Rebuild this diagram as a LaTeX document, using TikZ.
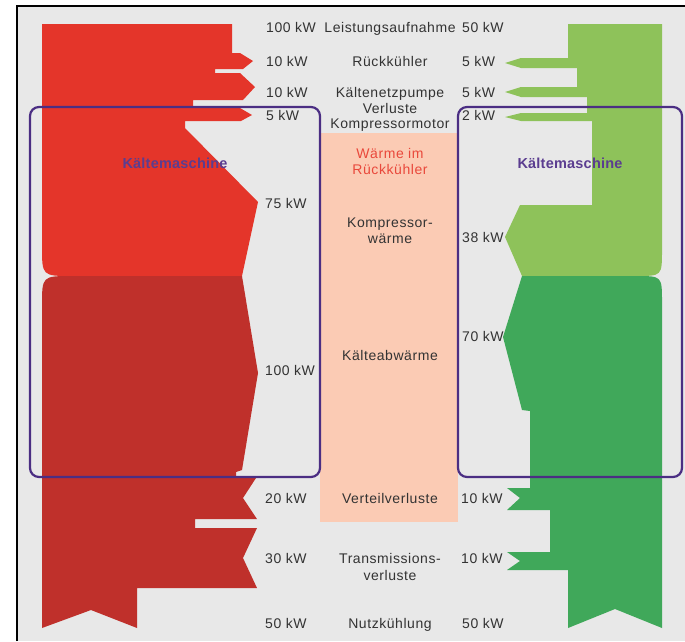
\documentclass[tikz,border=0pt]{standalone}
\usepackage{fontspec}
\setmainfont[LetterSpace=4]{Liberation Sans}
\newfontfamily\kmfont[LetterSpace=1.5]{Liberation Sans}
\definecolor{bg}{HTML}{E8E8E8}
\definecolor{redA}{HTML}{E4352A}
\definecolor{redB}{HTML}{BF302B}
\definecolor{grnA}{HTML}{8EC25A}
\definecolor{grnB}{HTML}{40A85A}
\definecolor{peach}{HTML}{FBCBB4}
\definecolor{boxc}{HTML}{4B2E83}
\definecolor{kmtext}{HTML}{5B3D90}
\definecolor{warm}{HTML}{E9483B}
\definecolor{txt}{HTML}{333333}
\begin{document}
\begin{tikzpicture}[x=1pt,y=-1pt,
  lab/.style={font=\fontsize{14}{16}\selectfont, text=txt, inner sep=0pt, anchor=base},
  numL/.style={lab, anchor=base west},
  numR/.style={lab, anchor=base west},
  warmlab/.style={lab, text=warm},
  kmlab/.style={lab, font=\kmfont\fontsize{14.5}{16}\selectfont\bfseries, text=kmtext},
  kmbox/.style={draw=boxc, line width=2.2pt, rounded corners=9pt}]
\useasboundingbox (0,0) rectangle (685,641);
% background and frame
\fill[white] (0,0) rectangle (685,641);
\fill[bg] (17,6) rectangle (685,641);
\draw[black, line width=2pt] (16.5,641) -- (16.5,6) -- (686,6);
% middle peach band
\fill[peach] (320,133) rectangle (458,522);
% left (red) flow, upper part
\fill[redA] (42,24) -- (232,24) -- (232,53) -- (240,53) -- (253,61) -- (243,69)
  -- (215,69) -- (215,73) -- (240,73) -- (255,87) -- (243,100) -- (193,100)
  -- (193,107) -- (240,108) -- (252,115) -- (241,121) -- (185,121) -- (185,128)
  -- (258,202) -- (242,276) -- (72,276) .. controls (42,276) and (42,276) .. (42,246) -- cycle;
% left (red) flow, lower part
\fill[redB] (72,276) -- (242,276) -- (258,373) -- (242,470) -- (236,472) -- (236,478)
  -- (256,478) -- (243,498) -- (257,519) -- (195,519) -- (195,528) -- (257,528)
  -- (243,558) -- (257,588) -- (137,588) -- (137,628) -- (91,610) -- (42,628)
  -- (42,306) .. controls (42,276) and (42,276) .. (72,276) -- cycle;
% right (green) flow, upper part
\fill[grnA] (568,24) -- (662,24) -- (662,250) .. controls (662,276) and (662,276) .. (636,276)
  -- (522,276) -- (505,237) -- (520,205) -- (592,205) -- (592,121) -- (521,121)
  -- (505,117) -- (521,113) -- (587,113) -- (587,97) -- (521,97) -- (505,92)
  -- (521,87) -- (577,87) -- (577,68) -- (521,68) -- (505,63) -- (521,58) -- (568,58) -- cycle;
% right (green) flow, lower part
\fill[grnB] (522,276) -- (636,276) .. controls (662,276) and (662,276) .. (662,302)
  -- (662,628) -- (615,609) -- (568,628) -- (568,570) -- (507,570) -- (520,561)
  -- (507,552) -- (550,552) -- (550,510) -- (507,510) -- (520,498) -- (507,488)
  -- (530,488) -- (530,411) -- (522,410) -- (503,337) -- cycle;
% machine boxes
\draw[kmbox] (30,107) rectangle (320,477);
\draw[kmbox] (458,107) rectangle (682,477);
% labels
\node[kmlab] (kmL) at (175,168) {Kältemaschine};
\node[kmlab] (kmR) at (570,168) {Kältemaschine};
\node[numL] (a1) at (266,32) {100 kW};
\node[lab] (m1) at (390,32) {Leistungsaufnahme};
\node[numR] (b1) at (462,32) {50 kW};
\node[numL] (a2) at (266,66) {10 kW};
\node[lab] (m2) at (390,66) {Rückkühler};
\node[numR] (b2) at (462,66) {5 kW};
\node[numL] (a3) at (266,97) {10 kW};
\node[lab] (m3) at (390,97) {Kältenetzpumpe};
\node[numR] (b3) at (462,97) {5 kW};
\node[numL] (a4) at (266,120) {5 kW};
\node[lab] (m4a) at (390,113) {Verluste};
\node[lab] (m4b) at (390,128) {Kompressormotor};
\node[numR] (b4) at (462,120) {2 kW};
\node[warmlab] (w1) at (390,158) {Wärme im};
\node[warmlab] (w2) at (390,174) {Rückkühler};
\node[numL] (a5) at (265,208) {75 kW};
\node[lab] (m5a) at (390,227) {Kompressor-};
\node[lab] (m5b) at (390,243) {wärme};
\node[numR] (b5) at (462,242) {38 kW};
\node[numR] (b6) at (462,341) {70 kW};
\node[lab] (m6) at (390,360) {Kälteabwärme};
\node[numL] (a6) at (265,375) {100 kW};
\node[numL] (a7) at (265,503) {20 kW};
\node[lab] (m7) at (390,503) {Verteilverluste};
\node[numR] (b7) at (461,503) {10 kW};
\node[numL] (a8) at (265,563) {30 kW};
\node[lab] (m8a) at (390,563) {Transmissions-};
\node[lab] (m8b) at (390,580) {verluste};
\node[numR] (b8) at (461,563) {10 kW};
\node[numL] (a9) at (265,628) {50 kW};
\node[lab] (m9) at (390,628) {Nutzkühlung};
\node[numR] (b9) at (462,628) {50 kW};
\end{tikzpicture}
\end{document}
